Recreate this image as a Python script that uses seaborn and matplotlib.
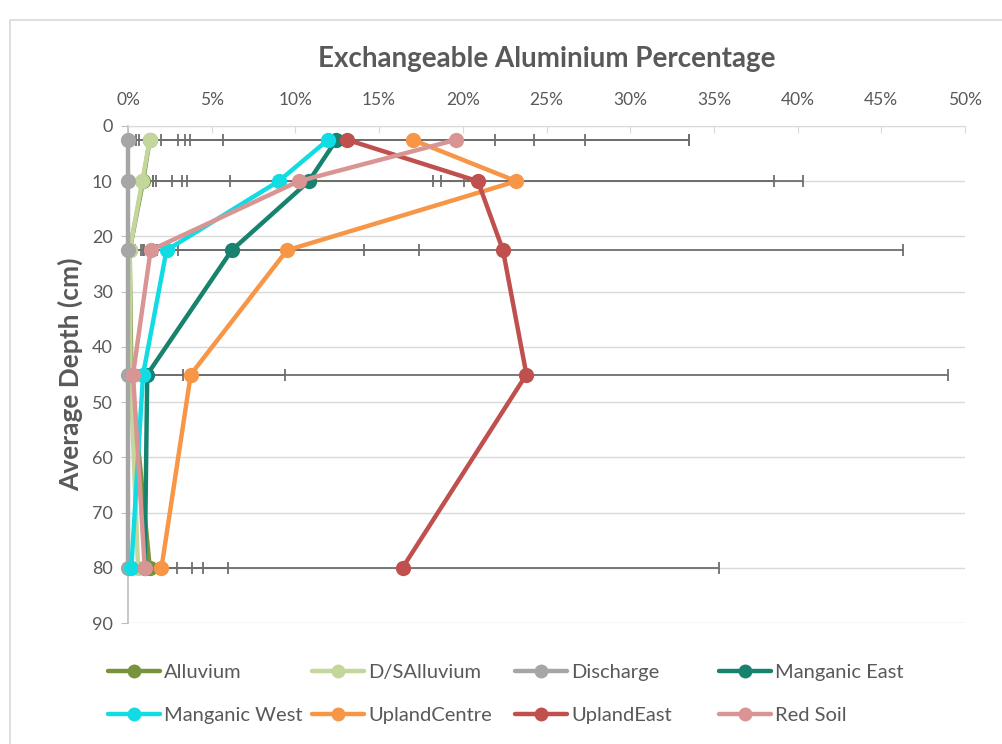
import numpy as np
import pandas as pd
import matplotlib
matplotlib.use('Agg')
import matplotlib.pyplot as plt
import seaborn as sns
from matplotlib.lines import Line2D
from matplotlib.patches import Rectangle
from matplotlib.ticker import FuncFormatter

# Average depth of each sampled layer (cm)
depths = [2.5, 10, 22.5, 45, 80]

# Exchangeable Al (%) per soil group
alluvium = [1.3, 0.9, 0.1, 0.2, 1.3]
ds_alluvium = [1.3, 0.85, 0.1, 0.15, 0.6]
discharge = [0.0, 0.0, 0.0, 0.0, 0.0]
manganic_east = [12.45, 10.8, 6.2, 1.15, 1.0]
manganic_west = [11.95, 9.0, 2.3, 0.9, 0.2]
upland_centre = [17.0, 23.2, 9.5, 3.75, 2.0]
upland_east = [13.1, 20.9, 22.4, 23.8, 16.4]
red_soil = [19.6, 10.2, 1.35, 0.3, 1.0]

# +/- error (%) for each point
alluvium_err = [2.4, 1.7, 0.8, 0.2, 3.2]
ds_alluvium_err = [2.1, 2.65, 0.3, 0.1, 0.5]
discharge_err = [3.0, 1.5, 0.8, 0.2, 0.3]
manganic_east_err = [11.8, 9.3, 7.9, 2.15, 1.9]
manganic_west_err = [9.95, 9.2, 0.7, 0.4, 0.2]
upland_centre_err = [16.5, 17.1, 7.9, 5.65, 4.0]
upland_east_err = [14.2, 17.7, 23.9, 25.2, 18.9]
red_soil_err = [13.9, 8.5, 0.4, 0.3, 2.8]

names = ['Alluvium', 'D/SAlluvium', 'Discharge', 'Manganic East',
         'Manganic West', 'UplandCentre', 'UplandEast', 'Red Soil']
values = [alluvium, ds_alluvium, discharge, manganic_east,
          manganic_west, upland_centre, upland_east, red_soil]
errors = [alluvium_err, ds_alluvium_err, discharge_err, manganic_east_err,
          manganic_west_err, upland_centre_err, upland_east_err, red_soil_err]
colors = ['#77933C', '#C3D69B', '#A6A6A6', '#17826E',
          '#12DCE3', '#F79646', '#C0504D', '#D99594']

rows = []
for name, vals, errs in zip(names, values, errors):
    for d, v, e in zip(depths, vals, errs):
        rows.append({'soil': name, 'depth': d, 'al': v, 'err': e})
df = pd.DataFrame(rows)

sns.set_style('white')
plt.rcParams['font.family'] = ['Lato', 'DejaVu Sans']

fig = plt.figure(figsize=(10.02, 7.44), dpi=100)
ax = fig.add_axes([128 / 1002, 1 - 623 / 744, (965 - 128) / 1002, (623 - 126) / 744])

# outer chart frame
fig.patches.append(Rectangle((10 / 1002, -0.1), 1.2, 1 - 20 / 744 + 0.1, transform=fig.transFigure,
                             fill=False, edgecolor='#D9D9D9', linewidth=1.2))

# error bars first so lines sit on top
for name in names:
    sub = df[df['soil'] == name]
    ax.errorbar(sub['al'], sub['depth'], xerr=sub['err'], fmt='none',
                ecolor='#6E6E6E', elinewidth=1.3, capsize=4, capthick=1.3, zorder=2)

n_before = len(ax.lines)
palette = dict(zip(names, colors))
sns.lineplot(data=df, x='al', y='depth', hue='soil', palette=palette, sort=False,
             orient='y', marker='o', markersize=11, markeredgewidth=0, linewidth=3.2,
             legend=False, ax=ax, zorder=3)
# let markers sitting on 0% show in full
for ln in ax.lines[n_before:]:
    ln.set_clip_on(False)

ax.set_xlim(0, 50)
ax.set_ylim(90, 0)
ax.set_xticks(np.arange(0, 51, 5))
ax.set_yticks(np.arange(0, 91, 10))
ax.xaxis.set_major_formatter(FuncFormatter(lambda v, p: f'{v:.0f}%'))
ax.xaxis.tick_top()
ax.tick_params(axis='x', top=True, direction='in', length=5, color='#D9D9D9',
               labelsize=12.5, labelcolor='#595959', pad=13)
ax.tick_params(axis='y', left=True, direction='out', length=5, color='#BFBFBF',
               labelsize=13, labelcolor='#595959', pad=6)
ax.grid(axis='y', color='#D9D9D9', linewidth=1)
ax.grid(axis='x', visible=False)
for s in ['right', 'bottom']:
    ax.spines[s].set_visible(False)
ax.spines['top'].set_color('#D9D9D9')
ax.spines['left'].set_color('#BFBFBF')
ax.spines['left'].set_linewidth(1.2)
ax.set_xlabel('')
ax.set_ylabel('Average Depth (cm)', fontsize=19, fontweight='bold', color='#595959', labelpad=6)

fig.text(547 / 1002, 1 - 59 / 744, 'Exchangeable Aluminium Percentage', ha='center', va='center',
         fontsize=20, fontweight='bold', color='#595959')

# legend: Excel-style equal-width columns, one small legend per column
handles = [Line2D([0], [0], color=c, linewidth=3.2, marker='o', markersize=10, markeredgewidth=0)
           for c in colors]
col_x = [108, 312, 515, 719]
for i, x in enumerate(col_x):
    leg = fig.legend([handles[i], handles[i + 4]], [names[i], names[i + 4]],
                     loc='upper left', bbox_to_anchor=(x / 1002, 1 - 664 / 744),
                     frameon=False, fontsize=14.5, handlelength=2.6, handletextpad=0.2,
                     labelspacing=1.3, borderpad=0, borderaxespad=0)
    for t in leg.get_texts():
        t.set_color('#595959')

fig.savefig('out.png', dpi=100)
